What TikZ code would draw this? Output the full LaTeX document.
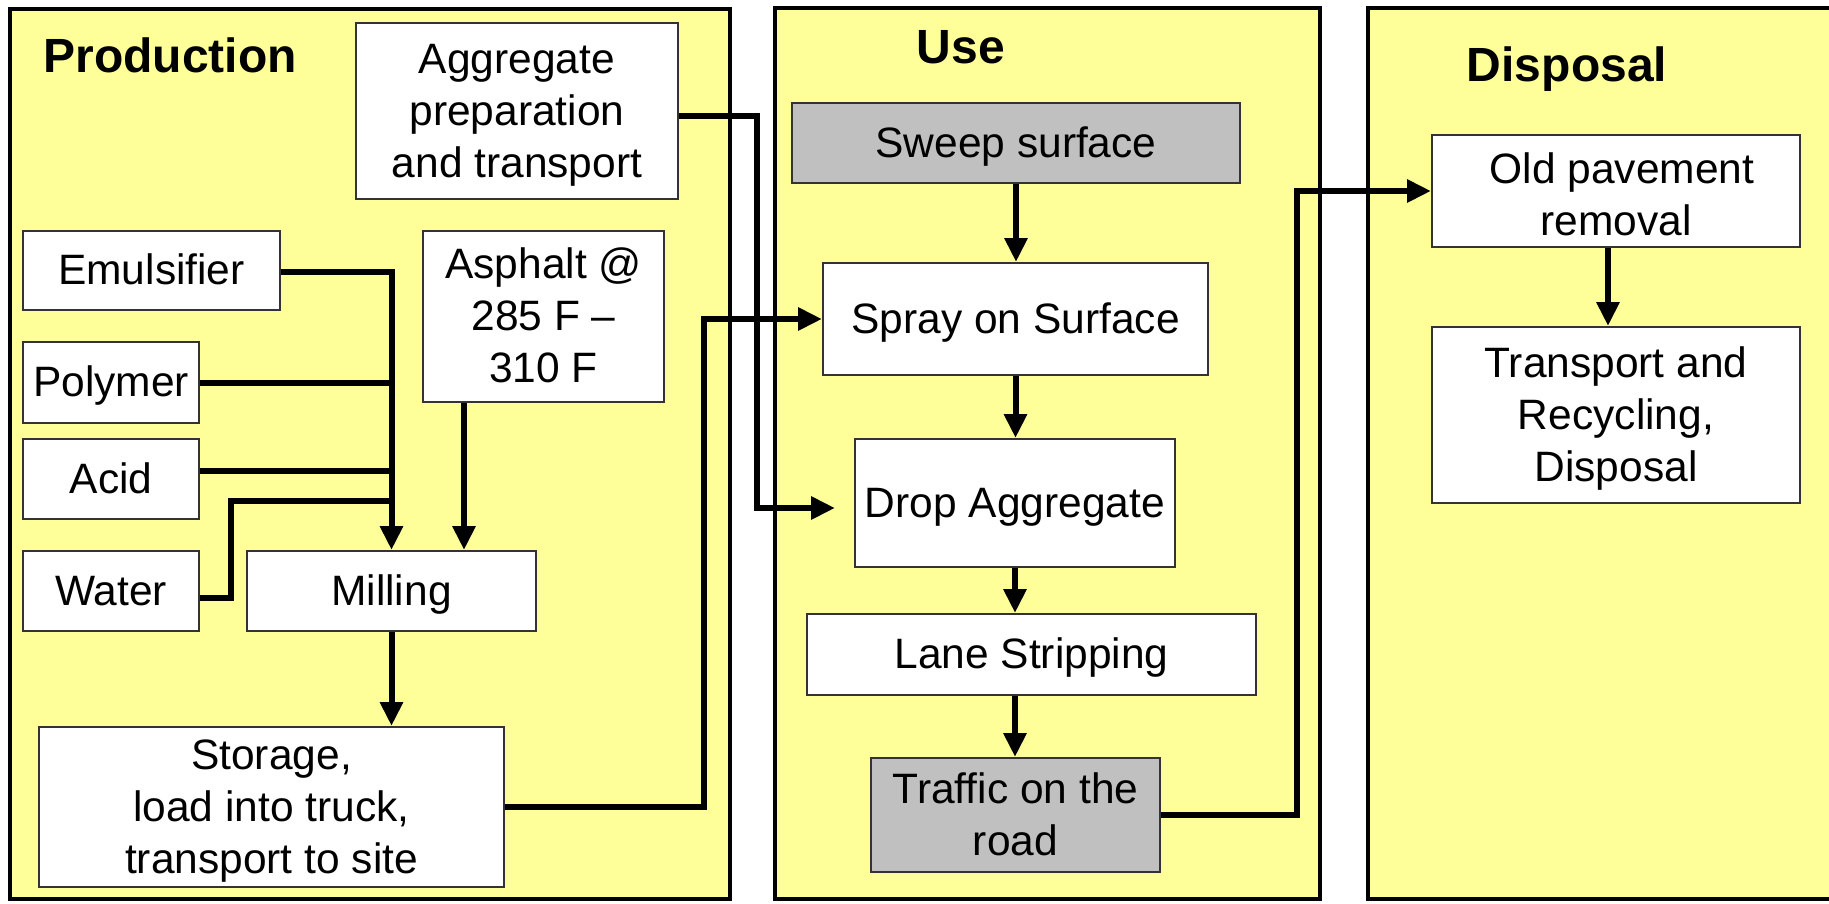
\documentclass[tikz,border=0pt]{standalone}
\usepackage{fontspec}
\setmainfont{Liberation Sans}
\usetikzlibrary{arrows.meta}
\definecolor{stagefill}{HTML}{FFFF99}
\definecolor{boxgrey}{HTML}{C0C0C0}
\definecolor{boxline}{HTML}{333333}
% line strut, keeps every box text centred on its capitals
\newcommand{\tstrut}[1][0pt]{\rule[-10.6pt]{0pt}{\dimexpr49.6pt+#1\relax}}

\begin{document}
\begin{tikzpicture}[x=1pt, y=-1pt,
    stage/.style={draw=black, line width=4.5pt, fill=stagefill},
    stagetitle/.style={anchor=base, inner sep=0pt, font=\fontsize{48pt}{56pt}\selectfont\bfseries},
    procbox/.style={draw=boxline, line width=2pt, fill=white, align=center, inner sep=0pt, font=\fontsize{42.5pt}{52pt}\selectfont},
    greybox/.style={procbox, fill=boxgrey},
    link/.style={line width=6pt},
    flow/.style={link, -{Triangle[length=24pt, width=22pt]}}]
		\clip (0,0) rectangle (1829,903);
		\fill[white] (0,0) rectangle (1829,903);
		% the three stages
		\draw[stage] (10,9) rectangle (730,899);
		\draw[stage] (775,8) rectangle (1320,899);
		\draw[stage] (1368,8) rectangle (1850,899);
		\node[stagetitle] (prodtitle) at (170,72) {Production};
		\node[stagetitle] (usetitle) at (961,63) {Use};
		\node[stagetitle] (disptitle) at (1567,81) {Disposal};
		% production
		\node[procbox, minimum width=322pt, minimum height=176pt] (aggprep) at (517,111) {\tstrut Aggregate\\preparation\\and transport\tstrut};
		\node[procbox, minimum width=257pt, minimum height=79pt] (emulsifier) at (151.5,270.5) {\tstrut Emulsifier};
		\node[procbox, minimum width=176pt, minimum height=81pt] (polymer) at (111,382.5) {\tstrut Polymer};
		\node[procbox, minimum width=176pt, minimum height=80pt] (acid) at (111,479) {\tstrut Acid};
		\node[procbox, minimum width=176pt, minimum height=80pt] (water) at (111,591) {\tstrut Water};
		\node[procbox, minimum width=241pt, minimum height=171pt] (asphalt) at (543.5,316.5) {\tstrut Asphalt @\\285 F –\\310 F\tstrut};
		\node[procbox, minimum width=289pt, minimum height=80pt] (milling) at (391.5,591) {\tstrut Milling};
		\node[procbox, minimum width=465pt, minimum height=160pt] (storage) at (271.5,807) {\tstrut Storage,\\load into truck,\\transport to site\tstrut};
		% use
		\node[greybox, minimum width=448pt, minimum height=80pt] (sweep) at (1016,143) {\tstrut Sweep surface};
		\node[procbox, minimum width=385pt, minimum height=112pt] (spray) at (1015.5,319) {\tstrut Spray on Surface};
		\node[procbox, minimum width=320pt, minimum height=128pt] (drop) at (1015,503) {\tstrut Drop Aggregate};
		\node[procbox, minimum width=449pt, minimum height=81pt] (lane) at (1031.5,654.5) {\tstrut Lane Stripping};
		\node[greybox, minimum width=289pt, minimum height=114pt] (traffic) at (1015.5,815) {\tstrut Traffic on the\\road\tstrut};
		% disposal
		\node[procbox, minimum width=368pt, minimum height=112pt] (oldpav) at (1616,191) {\tstrut[8pt] Old pavement\\removal\tstrut};
		\node[procbox, minimum width=368pt, minimum height=176pt] (transport) at (1616,415) {\tstrut Transport and\\Recycling,\\Disposal\tstrut};
		% connectors
		\draw[flow] ([yshift=-1.5pt]emulsifier.east) -| (milling.north);
		\draw[link] (polymer.east) -- (polymer.east -| milling.north);
		\draw[link] ([yshift=8pt]acid.east) -- ([yshift=8pt]acid.east -| milling.north);
		\draw[link] ([yshift=-7pt]water.east) -- ++(31,0) |- ([yshift=49pt]milling.north);
		\draw[flow] ([xshift=42pt]asphalt.south west) -- ([xshift=42pt]asphalt.south west |- milling.north);
		\draw[flow] (milling.south) -- (milling.south |- storage.north);
		\draw[flow] (storage.east) -- ++(199,0) |- (spray.west);
		\draw[flow] ([yshift=-5pt]aggprep.east) -- ++(78,0) |- ([xshift=-19pt,yshift=-5pt]drop.west);
		\draw[flow] (sweep.south) -- (sweep.south |- spray.north);
		\draw[flow] (spray.south) -- (spray.south |- drop.north);
		\draw[flow] (drop.south) -- (drop.south |- lane.north);
		\draw[flow] (drop.south |- lane.south) -- (drop.south |- traffic.north);
		\draw[flow] (traffic.east) -- ++(136,0) |- (oldpav.west);
		\draw[flow] ([xshift=-8pt]oldpav.south) -- ([xshift=-8pt]oldpav.south |- transport.north);
\end{tikzpicture}
\end{document}
